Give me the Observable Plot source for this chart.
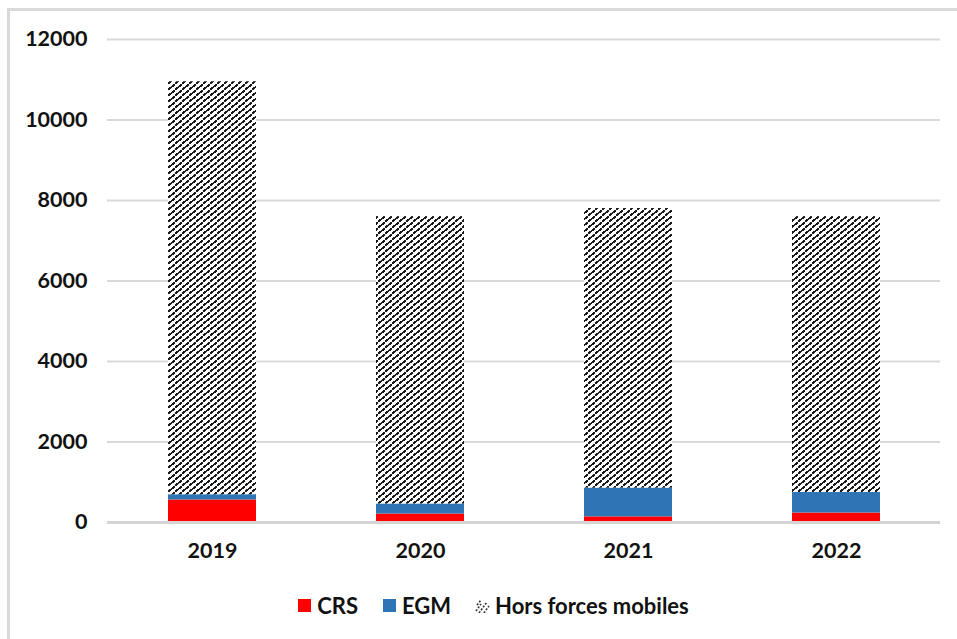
<!DOCTYPE html>
<html>
<head>
<meta charset="utf-8">
<script src="https://cdn.jsdelivr.net/npm/d3@7"></script>
<script src="https://cdn.jsdelivr.net/npm/@observablehq/plot@0.6"></script>
<style>
  html, body { margin: 0; padding: 0; background: #fff; }
  body { width: 957px; height: 639px; position: relative; overflow: hidden; font-family: Lato, "Open Sans", sans-serif; }
  #frame { position: absolute; left: 7px; top: 8px; width: 960px; height: 640px; border-left: 3px solid #d9d9d9; border-top: 3px solid #d9d9d9; box-sizing: border-box; }
  #chart { position: absolute; left: 0; top: 0; }
  #legend { position: absolute; top: 592px; left: 0; width: 957px; display: flex; justify-content: center; align-items: center; font-weight: bold; font-size: 22px; color: #111; padding-left: 29px; box-sizing: border-box; }
  .item { display: flex; align-items: center; margin: 0 12px; }
  .sw { width: 15px; height: 15px; margin-right: 5px; }
</style>
</head>
<body>
<div id="frame"></div>
<div id="chart"></div>
<div id="legend"></div>
<script>
const years = ["2019", "2020", "2021", "2022"];
const series = ["CRS", "EGM", "Hors forces mobiles"];
const crs = [560, 210, 140, 235];
const egm = [130, 250, 715, 510];
const hors = [10260, 7140, 6945, 6855];
const yTicks = [0, 2000, 4000, 6000, 8000, 10000, 12000];
const colors = ["#ff0000", "#2e75b6", "url(#hatch)"];

const values = [crs, egm, hors];
const data = [];
years.forEach((y, i) => {
  series.forEach((s, j) => data.push({year: y, series: s, value: values[j][i]}));
});

const plot = Plot.plot({
  width: 957,
  height: 590,
  marginLeft: 107,
  marginRight: 17,
  marginTop: 39,
  marginBottom: 68,
  style: {fontFamily: "Lato, 'Open Sans', sans-serif", fontSize: "21.5px", fontWeight: "bold", color: "#111", background: "transparent"},
  x: {domain: years, paddingInner: 0.577, paddingOuter: 0.29, label: null},
  y: {domain: [0, 12000], label: null},
  color: {domain: series, range: colors},
  marks: [
    Plot.gridY(yTicks, {stroke: "#d9d9d9", strokeOpacity: 1, strokeWidth: 2}),
    Plot.barY(data, {x: "year", y: "value", fill: "series", order: series}),
    Plot.ruleY([0], {stroke: "#d4d4d4", strokeWidth: 3}),
    Plot.axisY(yTicks, {tickSize: 0, tickPadding: 20, tickFormat: d => String(d)}),
    Plot.axisX({tickSize: 0, tickPadding: 20})
  ]
});

// hatch pattern definition: "/" diagonal lines
const ns = "http://www.w3.org/2000/svg";
const defs = document.createElementNS(ns, "defs");
const pat = document.createElementNS(ns, "pattern");
pat.setAttribute("id", "hatch");
pat.setAttribute("patternUnits", "userSpaceOnUse");
pat.setAttribute("width", "7");
pat.setAttribute("height", "6");
const bg = document.createElementNS(ns, "rect");
bg.setAttribute("width", "7"); bg.setAttribute("height", "6"); bg.setAttribute("fill", "#fff");
pat.appendChild(bg);
const p = document.createElementNS(ns, "path");
p.setAttribute("d", "M-7,6 L0,0 M0,6 L7,0 M7,6 L14,0");
p.setAttribute("stroke", "#1a1a1a");
p.setAttribute("stroke-width", "2");
p.setAttribute("shape-rendering", "crispEdges");
pat.appendChild(p);
defs.appendChild(pat);
plot.insertBefore(defs, plot.firstChild);
document.getElementById("chart").appendChild(plot);

// legend
const legend = document.getElementById("legend");
series.forEach((s, j) => {
  const item = document.createElement("div");
  item.className = "item";
  const sw = document.createElementNS(ns, "svg");
  sw.setAttribute("width", "15"); sw.setAttribute("height", "15");
  sw.setAttribute("class", "sw");
  if (j === 2) {
    const d2 = document.createElementNS(ns, "path");
    d2.setAttribute("d", "M1,13 L6,6 M4,15 L12,4 M9,15 L14,8 M2,7 L6,2");
    d2.setAttribute("stroke", "#333"); d2.setAttribute("stroke-width", "1.6");
    d2.setAttribute("stroke-dasharray", "2,1.5");
    sw.appendChild(d2);
  } else {
    const r = document.createElementNS(ns, "rect");
    r.setAttribute("x", "1"); r.setAttribute("y", "1");
    r.setAttribute("width", "13"); r.setAttribute("height", "13");
    r.setAttribute("fill", colors[j]);
    sw.appendChild(r);
  }
  item.appendChild(sw);
  const t = document.createElement("span");
  t.textContent = s;
  item.appendChild(t);
  legend.appendChild(item);
});
</script>
</body>
</html>
